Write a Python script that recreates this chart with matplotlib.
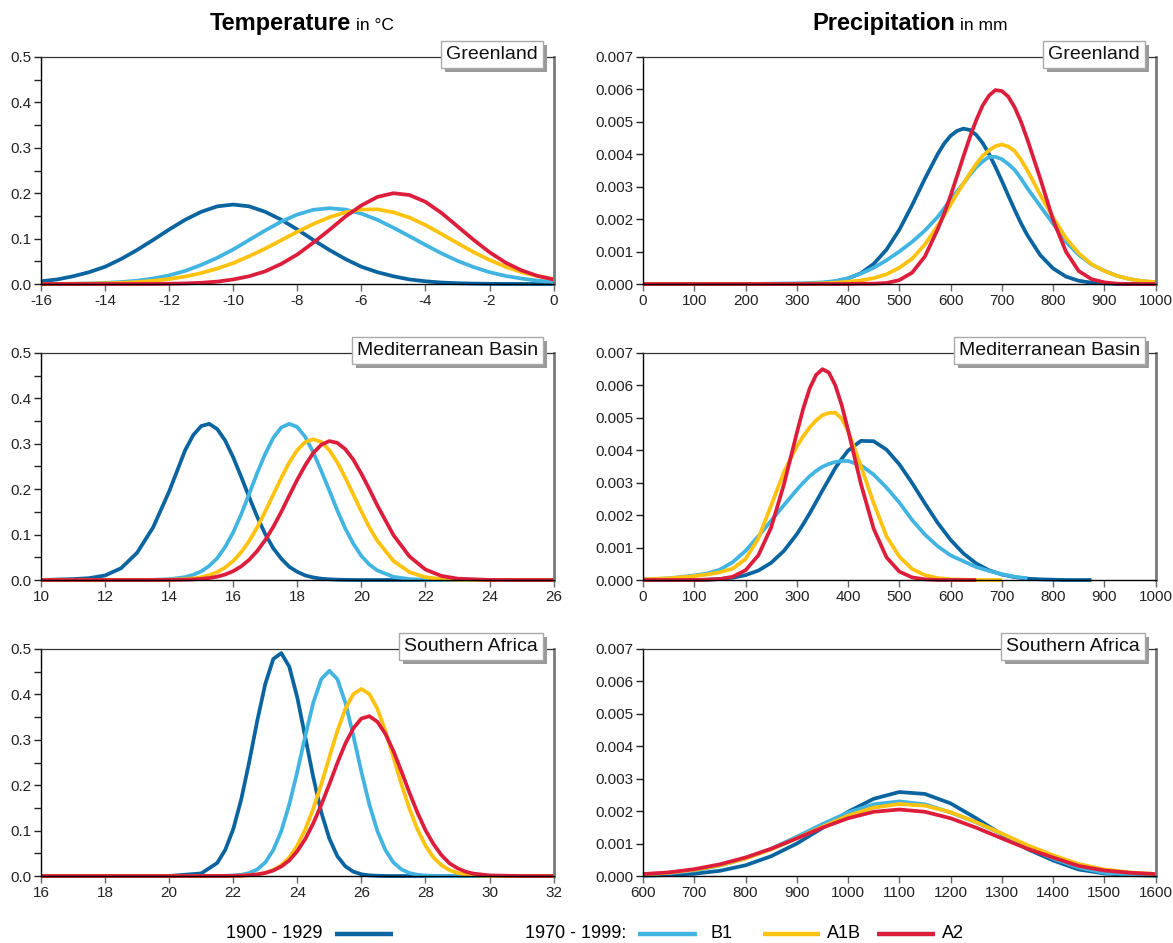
import numpy as np
import matplotlib.pyplot as plt
from matplotlib.lines import Line2D
from matplotlib.patches import Rectangle
from matplotlib.transforms import IdentityTransform
from matplotlib.ticker import FormatStrFormatter

plt.rcParams['font.family'] = ['Liberation Sans', 'DejaVu Sans']
plt.rcParams['axes.unicode_minus'] = False

# series colours: 1900-1929, B1, A1B, A2
colours = ['#0a64a0', '#41b4e1', '#ffc20e', '#dc1e3c']

# ---------------------------------------------------------------
# Temperature, Greenland (deg C)
t_grl_x = [-16, -15.5, -15, -14.5, -14, -13.5, -13, -12.5, -12, -11.5, -11, -10.5, -10, -9.5,
           -9, -8.5, -8, -7.5, -7, -6.5, -6, -5.5, -5, -4.5, -4, -3.5, -3, -2.5, -2, -1.5,
           -1, -0.5, 0]
t_grl_hist = [0.006, 0.010, 0.017, 0.026, 0.038, 0.055, 0.075, 0.097, 0.120, 0.1415, 0.159, 0.171,
              0.175, 0.171, 0.159, 0.1415, 0.120, 0.097, 0.075, 0.055, 0.038, 0.026, 0.017, 0.010,
              0.006, 0.0032, 0.0017, 0.0009, 0.0004, 0.0002, 0.0001, 0.0, 0.0]
t_grl_b1 = [0.0001, 0.0003, 0.0006, 0.0013, 0.0024, 0.0043, 0.0073, 0.0121, 0.019, 0.0288, 0.042,
            0.0577, 0.076, 0.0971, 0.118, 0.1374, 0.153, 0.1634, 0.167, 0.1639, 0.155, 0.1414,
            0.124, 0.1052, 0.086, 0.0675, 0.051, 0.0373, 0.026, 0.0178, 0.012, 0.0073, 0.0045]
t_grl_a1b = [0.0001, 0.0002, 0.0004, 0.0008, 0.0015, 0.0025, 0.0043, 0.0069, 0.011, 0.0164, 0.024,
             0.034, 0.046, 0.0613, 0.078, 0.0964, 0.115, 0.1321, 0.147, 0.1579, 0.164, 0.1645,
             0.158, 0.1463, 0.130, 0.1102, 0.090, 0.0703, 0.053, 0.0379, 0.026, 0.0173, 0.011]
t_grl_a2 = [0.0, 0.0, 0.0, 0.0, 0.0, 0.0, 0.0001, 0.0002, 0.0006, 0.0013, 0.0027, 0.0052, 0.010,
            0.0171, 0.028, 0.0443, 0.065, 0.0911, 0.119, 0.1485, 0.173, 0.1918, 0.200, 0.196,
            0.181, 0.1565, 0.127, 0.0974, 0.070, 0.0471, 0.030, 0.0178, 0.010]

# Temperature, Mediterranean Basin
t_med_x = [10, 11, 11.5, 12, 12.5, 13, 13.5, 14,
           14.5, 14.75, 15, 15.25, 15.5, 15.75, 16, 16.25, 16.5, 16.75, 17, 17.25, 17.5,
           17.75, 18, 18.25, 18.5, 18.75, 19, 19.25, 19.5, 19.75, 20, 20.25, 20.5,
           21, 21.5, 22, 22.5, 23, 24, 25, 26]
t_med_hist = [0.0, 0.002, 0.004, 0.010, 0.026, 0.060, 0.116, 0.195,
              0.286, 0.319, 0.339, 0.344, 0.3325, 0.307, 0.270, 0.227, 0.182, 0.139, 0.101, 0.070, 0.047,
              0.029, 0.018, 0.010, 0.0056, 0.0029, 0.0015, 0.0007, 0.0003, 0.0001, 0.0, 0.0, 0.0,
              0.0, 0.0, 0.0, 0.0, 0.0, 0.0, 0.0, 0.0]
t_med_b1 = [0.0, 0.0, 0.0, 0.0, 0.0, 0.0001, 0.0004, 0.0017,
            0.0064, 0.0114, 0.019, 0.031, 0.048, 0.073, 0.105, 0.145, 0.190, 0.236, 0.278, 0.313, 0.336,
            0.344, 0.337, 0.315, 0.281, 0.240, 0.197, 0.153, 0.113, 0.080, 0.053, 0.034, 0.021,
            0.007, 0.002, 0.0005, 0.0001, 0.0, 0.0, 0.0, 0.0]
t_med_a1b = [0.0, 0.0, 0.0, 0.0, 0.0, 0.0, 0.0001, 0.0005,
             0.0019, 0.0034, 0.0061, 0.0106, 0.0174, 0.0276, 0.042, 0.0613, 0.086, 0.116, 0.151, 0.188, 0.225,
             0.259, 0.286, 0.304, 0.310, 0.304, 0.286, 0.259, 0.225, 0.188, 0.151, 0.116, 0.086,
             0.042, 0.0174, 0.0061, 0.0019, 0.0005, 0.0, 0.0, 0.0]
t_med_a2 = [0.0, 0.0, 0.0, 0.0, 0.0, 0.0, 0.0001, 0.0002,
            0.0007, 0.0013, 0.0024, 0.0043, 0.0073, 0.0122, 0.0195, 0.0301, 0.0447, 0.064, 0.088, 0.117, 0.150,
            0.186, 0.221, 0.253, 0.280, 0.298, 0.306, 0.302, 0.288, 0.265, 0.234, 0.200, 0.164,
            0.099, 0.052, 0.023, 0.009, 0.003, 0.0002, 0.0, 0.0]

# Temperature, Southern Africa
t_saf_x = [16, 18, 20, 21,
           21.5, 21.75, 22, 22.25, 22.5, 22.75, 23, 23.25, 23.5, 23.75, 24, 24.25, 24.5,
           24.75, 25, 25.25, 25.5, 25.75, 26, 26.25, 26.5, 26.75, 27, 27.25, 27.5, 27.75,
           28, 28.25, 28.5, 28.75, 29, 29.25, 29.5,
           30, 31, 32]
t_saf_hist = [0.0, 0.0, 0.0001, 0.0056,
              0.0287, 0.0574, 0.1031, 0.1688, 0.2517, 0.342, 0.423, 0.478, 0.491, 0.461, 0.393, 0.3055, 0.217,
              0.140, 0.0825, 0.0436, 0.0213, 0.0095, 0.0038, 0.0014, 0.0005, 0.0001, 0.0, 0.0, 0.0, 0.0,
              0.0, 0.0, 0.0, 0.0, 0.0, 0.0, 0.0,
              0.0, 0.0, 0.0]
t_saf_b1 = [0.0, 0.0, 0.0, 0.0,
            0.0001, 0.0004, 0.001, 0.0027, 0.0065, 0.0146, 0.0298, 0.0571, 0.0989, 0.1575, 0.2296, 0.3089, 0.382,
            0.4338, 0.452, 0.4338, 0.382, 0.3089, 0.2296, 0.1575, 0.0989, 0.0571, 0.0298, 0.0146, 0.0065, 0.0027,
            0.001, 0.0004, 0.0001, 0.0, 0.0, 0.0, 0.0,
            0.0, 0.0, 0.0]
t_saf_a1b = [0.0, 0.0, 0.0, 0.0,
             0.0, 0.0001, 0.0003, 0.0007, 0.0016, 0.0034, 0.0068, 0.0131, 0.0238, 0.0408, 0.0671, 0.1027, 0.1485,
             0.2024, 0.2614, 0.3193, 0.3682, 0.4007, 0.412, 0.4007, 0.3682, 0.3193, 0.2614, 0.2024, 0.1485, 0.1027,
             0.0671, 0.0408, 0.0238, 0.0131, 0.0068, 0.0034, 0.0016,
             0.0003, 0.0, 0.0]
t_saf_a2 = [0.0, 0.0, 0.0, 0.0,
            0.0001, 0.0002, 0.0004, 0.0009, 0.0018, 0.0035, 0.0067, 0.0121, 0.0209, 0.0343, 0.0548, 0.0816, 0.1163,
            0.1571, 0.202, 0.2489, 0.2917, 0.3254, 0.3468, 0.352, 0.3397, 0.3131, 0.2754, 0.2305, 0.1836, 0.1397,
            0.101, 0.0704, 0.0459, 0.028, 0.017, 0.0096, 0.0052,
            0.0013, 0.0, 0.0]

# ---------------------------------------------------------------
# Precipitation, Greenland (mm)
p_grl_x = [0, 100, 200, 300, 325, 350, 375, 400, 425, 450, 475, 500, 525, 550, 575,
           587.5, 600, 612.5, 625, 637.5, 650, 662.5, 675, 687.5, 700, 712.5, 725, 737.5,
           750, 775, 800, 825, 850, 875, 900, 925, 950, 975, 1000]
p_grl_hist = [0.0, 0.0, 0.0, 0.0, 0.00001, 0.00003, 0.00008, 0.00017, 0.00033, 0.00062, 0.00106,
              0.00167, 0.00243, 0.00325, 0.00401,
              0.00433, 0.00457, 0.00472, 0.00479, 0.00475, 0.0046, 0.00435, 0.00401, 0.00361,
              0.00318, 0.00273, 0.00229, 0.00187,
              0.0015, 0.00089, 0.00048, 0.00023, 0.0001, 0.00004, 0.00002, 0.0, 0.0, 0.0, 0.0]
p_grl_b1 = [0.0, 0.0, 0.0, 0.00002, 0.00003, 0.00005, 0.00009, 0.00018, 0.00032, 0.0005, 0.00073,
            0.001, 0.0013, 0.00165, 0.00207,
            0.00233, 0.0026, 0.00285, 0.0031, 0.00336, 0.0036, 0.00378, 0.00392, 0.00392,
            0.00385, 0.0037, 0.00352, 0.00325,
            0.00295, 0.0024, 0.00186, 0.0013, 0.0009, 0.0006, 0.00041, 0.00025, 0.00015, 0.00009, 0.00005]
p_grl_a1b = [0.0, 0.0, 0.0, 0.0, 0.00001, 0.00002, 0.00004, 0.00007, 0.00011, 0.00018, 0.0003,
             0.0005, 0.00078, 0.00122, 0.0018,
             0.00212, 0.00245, 0.00278, 0.0031, 0.0034, 0.0037, 0.00395, 0.00412, 0.00425,
             0.0043, 0.00424, 0.0041, 0.00383,
             0.0035, 0.00275, 0.00205, 0.00142, 0.00095, 0.00061, 0.0004, 0.00025, 0.00015, 0.00009, 0.00006]
p_grl_a2 = [0.0, 0.0, 0.0, 0.0, 0.0, 0.0, 0.0, 0.0, 0.00001, 0.00001, 0.00003,
            0.00012, 0.00035, 0.00085, 0.00169,
            0.00217, 0.00272, 0.00332, 0.00393, 0.00452, 0.00505, 0.0055, 0.00581, 0.00598,
            0.00595, 0.00578, 0.00545, 0.005,
            0.00445, 0.00325, 0.00198, 0.001, 0.0004, 0.00015, 0.00005, 0.00001, 0.0, 0.0, 0.0]

# Precipitation, Mediterranean Basin (the curves stop at different amounts)
p_med_x = [0, 50, 100, 125, 150, 175, 200, 225, 250, 275, 300, 312.5, 325, 337.5, 350, 362.5,
           375, 387.5, 400, 425, 450, 475, 500, 525, 550, 575, 600, 625, 650, 675, 700, 725,
           750, 775, 800, 825, 850, 875]
p_med_hist = [0.0, 0.0, 0.0, 0.00001, 0.00003, 0.00007, 0.00015, 0.00029, 0.00053, 0.0009, 0.00141,
              0.00172, 0.00205, 0.0024, 0.00276, 0.0031, 0.00345, 0.00373, 0.00399, 0.00429,
              0.00428, 0.00402, 0.00357, 0.00299, 0.00236, 0.00176, 0.00124, 0.00082, 0.00051,
              0.0003, 0.00017, 0.00009, 0.00004, 0.00002, 0.00001, 0.0, 0.0, 0.0]
p_med_b1 = [0.00002, 0.00005, 0.00014, 0.0002, 0.00032, 0.00055, 0.0009, 0.00135, 0.00183, 0.00231,
            0.00278, 0.003, 0.0032, 0.00336, 0.00349, 0.00358, 0.00364, 0.00367, 0.00367, 0.00354,
            0.00325, 0.00285, 0.00239, 0.00185, 0.0014, 0.00104, 0.00076, 0.00058, 0.0004, 0.00028,
            0.00018, 0.0001, 0.00005]
p_med_a1b = [0.00002, 0.00005, 0.00012, 0.00017, 0.00024, 0.00035, 0.00065, 0.00128, 0.0023, 0.00333,
             0.00412, 0.00443, 0.0047, 0.00492, 0.00508, 0.00515, 0.00516, 0.00498, 0.0046, 0.00352,
             0.00237, 0.00135, 0.00072, 0.00034, 0.00015, 0.00006, 0.00002, 0.00001, 0.0, 0.0, 0.0]
p_med_a2 = [0.0, 0.0, 0.0, 0.00001, 0.00003, 0.0001, 0.0003, 0.00076, 0.00162, 0.00295, 0.00453,
            0.00528, 0.0059, 0.00632, 0.0065, 0.0064, 0.00601, 0.0054, 0.00463, 0.00297, 0.00158,
            0.0007, 0.00026, 0.00008, 0.00002, 0.0, 0.0, 0.0, 0.0]

# Precipitation, Southern Africa
p_saf_x = [600, 650, 700, 750, 800, 850, 900, 950, 1000, 1050, 1100, 1150, 1200, 1250, 1300,
           1350, 1400, 1450, 1500, 1550, 1600]
p_saf_hist = [0.00001, 0.00003, 0.00007, 0.00016, 0.00033, 0.00061, 0.001, 0.00148, 0.00198, 0.00238,
              0.00259, 0.00253, 0.00224, 0.00178, 0.00128, 0.00083, 0.00048, 0.0002, 0.00008, 0.00003, 0.00001]
p_saf_b1 = [0.00004, 0.00009, 0.00017, 0.00032, 0.00054, 0.00084, 0.00121, 0.0016, 0.00196, 0.00221,
            0.0023, 0.00221, 0.00196, 0.00165, 0.0013, 0.0009, 0.00054, 0.00026, 0.0001, 0.00004, 0.00001]
p_saf_a1b = [0.00005, 0.0001, 0.00019, 0.00033, 0.00054, 0.00082, 0.00116, 0.00152, 0.00186, 0.00211,
             0.00222, 0.00217, 0.00197, 0.00166, 0.00131, 0.00095, 0.00064, 0.00037, 0.0002, 0.00011, 0.00006]
p_saf_a2 = [0.00006, 0.00011, 0.00021, 0.00036, 0.00057, 0.00084, 0.00116, 0.00149, 0.00178, 0.00198,
            0.00205, 0.00198, 0.00178, 0.00149, 0.00116, 0.00084, 0.00057, 0.00031, 0.00017, 0.0001, 0.00006]

legend_labels = ['1900 - 1929', '1970 - 1999:', 'B1', 'A1B', 'A2']

# ---------------------------------------------------------------
fig = plt.figure(figsize=(11.73, 9.43), dpi=100)

colx = [41/1173, 643/1173]
colw = 0.4370
rowy = [1-284/943, 1-580/943, 1-876/943]
rowh = 227/943

name_texts = []


def panel(col, row, x, curves, xlim, xstep, ymax, ystep, fmt, name, minor=None):
    ax = fig.add_axes([colx[col], rowy[row], colw, rowh])
    for y, c in zip(curves, colours):
        ax.plot(x[:len(y)], y, color=c, lw=2.7, clip_on=False, solid_capstyle='butt',
                solid_joinstyle='round')
    ax.set_xlim(xlim)
    ax.set_xticks(np.arange(xlim[0], xlim[1] + xstep/2, xstep))
    ax.set_ylim(0, ymax)
    ax.set_yticks(np.arange(0, ymax + ystep/2, ystep))
    if minor is not None:
        ax.set_yticks(np.arange(minor, ymax, ystep), minor=True)
    ax.yaxis.set_major_formatter(FormatStrFormatter(fmt))
    for side in ['left', 'bottom']:
        ax.spines[side].set_color('black')
        ax.spines[side].set_linewidth(1.0)
    ax.spines['top'].set_color('#333333')
    ax.spines['top'].set_linewidth(0.9)
    ax.spines['right'].set_color('#7a7a7a')
    ax.spines['right'].set_linewidth(2.0)
    ax.tick_params(which='both', direction='out', length=5, width=1, labelsize=11, pad=2,
                   colors='#222222')
    ax.tick_params(axis='x', color='#666666')
    # region name in a white box on the top spine (shadow added after layout)
    t = ax.text(0.969, 1.012, name, transform=ax.transAxes, ha='right', va='center', fontsize=14,
                color='#111111', zorder=7, clip_on=False,
                bbox=dict(boxstyle='square,pad=0.25', fc='white', ec='#a9a9a9', lw=1))
    name_texts.append((ax, t))
    return ax


panel(0, 0, t_grl_x, [t_grl_hist, t_grl_b1, t_grl_a1b, t_grl_a2], (-16, 0), 2, 0.5, 0.1, '%.1f',
      'Greenland', minor=0.05)
panel(0, 1, t_med_x, [t_med_hist, t_med_b1, t_med_a1b, t_med_a2], (10, 26), 2, 0.5, 0.1, '%.1f',
      'Mediterranean Basin', minor=0.05)
panel(0, 2, t_saf_x, [t_saf_hist, t_saf_b1, t_saf_a1b, t_saf_a2], (16, 32), 2, 0.5, 0.1, '%.1f',
      'Southern Africa', minor=0.05)
panel(1, 0, p_grl_x, [p_grl_hist, p_grl_b1, p_grl_a1b, p_grl_a2], (0, 1000), 100, 0.007, 0.001, '%.3f',
      'Greenland')
panel(1, 1, p_med_x, [p_med_hist, p_med_b1, p_med_a1b, p_med_a2], (0, 1000), 100, 0.007, 0.001, '%.3f',
      'Mediterranean Basin')
panel(1, 2, p_saf_x, [p_saf_hist, p_saf_b1, p_saf_a1b, p_saf_a2], (600, 1600), 100, 0.007, 0.001, '%.3f',
      'Southern Africa')

# column titles
ty = 1 - 30/943
fig.text(351/1173, ty, 'Temperature', ha='right', va='baseline', fontsize=17, fontweight='bold')
fig.text(356/1173, ty, 'in °C', ha='left', va='baseline', fontsize=12.5)
fig.text(955/1173, ty, 'Precipitation', ha='right', va='baseline', fontsize=17, fontweight='bold')
fig.text(960/1173, ty, 'in mm', ha='left', va='baseline', fontsize=12.5)

# legend along the bottom
ly = 1 - 934/943
fig.text(323/1173, ly, legend_labels[0], ha='right', va='center', fontsize=13)
fig.text(626/1173, ly, legend_labels[1], ha='right', va='center', fontsize=13)
segments = [(335, 393), (638, 697), (763, 820), (877, 935)]
for (a, b), c in zip(segments, colours):
    fig.add_artist(Line2D([a/1173, b/1173], [ly, ly], transform=fig.transFigure, color=c, lw=3.2,
                          solid_capstyle='butt'))
fig.text(711/1173, ly, legend_labels[2], ha='left', va='center', fontsize=13)
fig.text(827/1173, ly, legend_labels[3], ha='left', va='center', fontsize=13)
fig.text(942/1173, ly, legend_labels[4], ha='left', va='center', fontsize=13)

# grey drop shadows under the name boxes, measured in pixels once laid out
fig.canvas.draw()
for ax, t in name_texts:
    bb = t.get_bbox_patch().get_window_extent()
    ax.add_patch(Rectangle((bb.x0 + 4, bb.y0 - 4), bb.width, bb.height, transform=IdentityTransform(),
                           fc='#9a9a9a', ec='none', zorder=6, clip_on=False))

fig.savefig('out.png', dpi=100)
